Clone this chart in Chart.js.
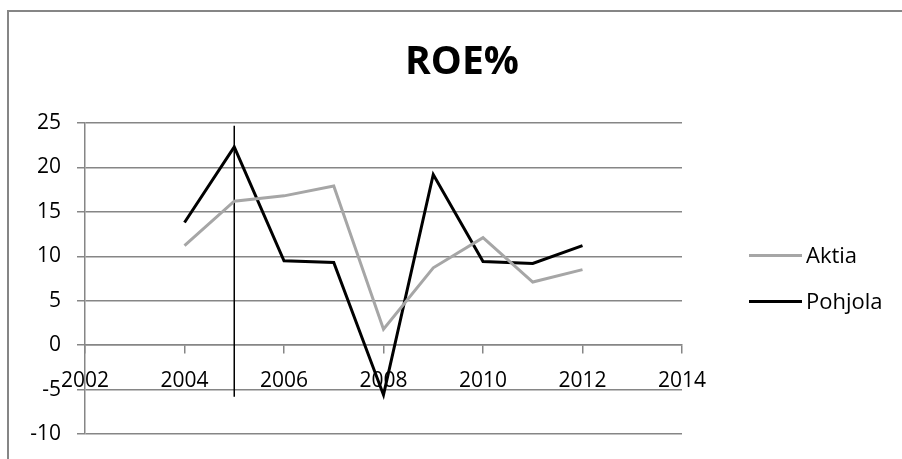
<!DOCTYPE html>
<html>
<head>
<meta charset="utf-8">
<title>ROE%</title>
<script src="https://cdn.jsdelivr.net/npm/chart.js@4.4.1/dist/chart.umd.min.js"></script>
<style>
  html, body { margin: 0; padding: 0; background: #fff; }
  #roe { display: block; }
</style>
</head>
<body>
<canvas id="roe" width="902" height="459"></canvas>
<script>
/* ========= Data ========= */
const chartTitle = "ROE%";
const years = [2004, 2005, 2006, 2007, 2008, 2009, 2010, 2011, 2012];
const aktia = [11.2, 16.2, 16.8, 17.9, 1.8, 8.7, 12.1, 7.1, 8.5];
const pohjola = [13.8, 22.3, 9.5, 9.3, -5.6, 19.2, 9.4, 9.2, 11.2];
const seriesNames = ["Aktia", "Pohjola"];
// the thin vertical marker line at 2005
const markerX = [2005, 2005];
const markerY = [24.7, -5.8];
const xTicks = [2002, 2004, 2006, 2008, 2010, 2012, 2014];
const yTicks = [-10, -5, 0, 5, 10, 15, 20, 25];

const FONT = "'Open Sans', 'Liberation Sans', sans-serif";
const GRID = "#868686";

function toPoints(xs, ys) {
  return xs.map((x, i) => ({ x: x, y: ys[i] }));
}

/* ========= Frame, title, legend ========= */
const extras = {
  id: "extras",
  beforeDraw(chart) {
    const ctx = chart.ctx;
    ctx.save();
    ctx.strokeStyle = GRID;
    ctx.lineWidth = 2;
    ctx.beginPath();
    ctx.moveTo(8, chart.height);
    ctx.lineTo(8, 11);
    ctx.lineTo(chart.width, 11);
    ctx.stroke();
    ctx.restore();
  },
  afterDraw(chart) {
    const ctx = chart.ctx;
    const area = chart.chartArea;
    ctx.save();
    // title
    ctx.fillStyle = "#000";
    ctx.font = "bold 39px " + FONT;
    ctx.textAlign = "center";
    ctx.textBaseline = "middle";
    ctx.fillText(chartTitle, 462, 63);
    // legend
    ctx.font = "22px " + FONT;
    ctx.textAlign = "left";
    const midY = (area.top + area.bottom) / 2;
    const legendSets = chart.data.datasets.filter(d => d.inLegend);
    legendSets.forEach((ds, i) => {
      const y = midY - 23 + i * 46;
      ctx.strokeStyle = ds.borderColor;
      ctx.lineWidth = 3;
      ctx.beginPath();
      ctx.moveTo(749, y);
      ctx.lineTo(802, y);
      ctx.stroke();
      ctx.fillStyle = "#000";
      ctx.fillText(ds.label, 806, y + 1);
    });
    ctx.restore();
  }
};

/* ========= Chart ========= */
const ctx = document.getElementById("roe").getContext("2d");
new Chart(ctx, {
  type: "scatter",
  data: {
    datasets: [
      {
        label: seriesNames[0],
        data: toPoints(years, aktia),
        showLine: true,
        borderColor: "#a6a6a6",
        borderWidth: 3,
        pointRadius: 0,
        tension: 0,
        inLegend: true
      },
      {
        label: seriesNames[1],
        data: toPoints(years, pohjola),
        showLine: true,
        borderColor: "#000000",
        borderWidth: 3,
        pointRadius: 0,
        tension: 0,
        inLegend: true
      },
      {
        label: "marker",
        data: toPoints(markerX, markerY),
        showLine: true,
        borderColor: "#000000",
        borderWidth: 1.5,
        pointRadius: 0,
        inLegend: false
      }
    ]
  },
  options: {
    responsive: false,
    animation: false,
    devicePixelRatio: 1,
    layout: { padding: { left: 0, right: 220, top: 123, bottom: 25 } },
    plugins: {
      legend: { display: false },
      title: { display: false },
      tooltip: { enabled: false }
    },
    scales: {
      x: {
        type: "linear",
        position: { y: 0 },
        min: xTicks[0],
        max: xTicks[xTicks.length - 1],
        afterBuildTicks: s => { s.ticks = xTicks.map(v => ({ value: v })); },
        ticks: {
          color: "#000",
          font: { family: FONT, size: 21 },
          padding: 15,
          maxRotation: 0,
          callback: v => String(v)
        },
        grid: { drawOnChartArea: false, color: GRID, lineWidth: 1.5, tickLength: 8 },
        border: { color: GRID, width: 1.5 }
      },
      y: {
        min: yTicks[0],
        max: yTicks[yTicks.length - 1],
        afterBuildTicks: s => { s.ticks = yTicks.map(v => ({ value: v })); },
        afterFit: s => {
          s.width = 85;
          s.paddingTop = 0;
          s.paddingBottom = 0;
        },
        ticks: {
          color: "#000",
          font: { family: FONT, size: 21 },
          padding: 16
        },
        grid: { color: GRID, lineWidth: 1.5, tickLength: 8 },
        border: { color: GRID, width: 1.5 }
      }
    }
  },
  plugins: [extras]
});
</script>
</body>
</html>
